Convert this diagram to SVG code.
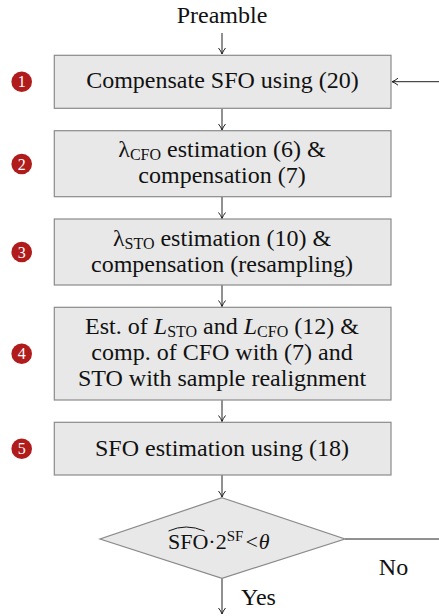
<svg xmlns="http://www.w3.org/2000/svg" width="439" height="616" viewBox="0 0 439 616">
<style>
.box{fill:#e8e8e8;stroke:#8a8a8a;stroke-width:1.2}
.t{font-family:"Liberation Serif","Times New Roman",serif;font-size:24px;fill:#111;text-anchor:middle}
.sub{font-size:16px}
.badge circle{fill:#b01c1c}
.badge text{font-family:"Liberation Serif","Times New Roman",serif;font-size:16px;fill:#fff;text-anchor:middle}
.c{stroke:#222;stroke-width:1;fill:none}
</style>
<defs>
<marker id="ah" markerWidth="10" markerHeight="10" refX="8" refY="5" orient="auto" markerUnits="userSpaceOnUse">
<path d="M2,1.5 Q5,4 8,5 Q5,6 2,8.5" fill="none" stroke="#222" stroke-width="1"/>
</marker>
</defs>
<rect width="439" height="616" fill="#fff"/>
<text class="t" x="222" y="23">Preamble</text>
<g id="connectors">
<line class="c" x1="222" y1="33" x2="222" y2="54" marker-end="url(#ah)"/>
<line class="c" x1="222" y1="108.5" x2="222" y2="130" marker-end="url(#ah)"/>
<line class="c" x1="222" y1="197" x2="222" y2="218.5" marker-end="url(#ah)"/>
<line class="c" x1="222" y1="285" x2="222" y2="306.5" marker-end="url(#ah)"/>
<line class="c" x1="222" y1="400" x2="222" y2="421.5" marker-end="url(#ah)"/>
<line class="c" x1="222" y1="475" x2="222" y2="497" marker-end="url(#ah)"/>
<line class="c" x1="222" y1="578.5" x2="222" y2="614" marker-end="url(#ah)"/>
<line class="c" x1="345" y1="539" x2="439" y2="539"/>
<line class="c" x1="439" y1="81.7" x2="392" y2="81.7" marker-end="url(#ah)"/>
<text class="t" x="393.5" y="575">No</text>
<text class="t" x="258.5" y="605">Yes</text>
</g>
<g id="n1">
<rect class="box" x="54.3" y="55.3" width="336.7" height="53"/>
<text class="t" x="222.5" y="88">Compensate SFO using (20)</text>
</g>
<g id="n2">
<rect class="box" x="54.3" y="130.7" width="336.7" height="66"/>
<text class="t" x="222" y="157">λ<tspan class="sub" dy="3">CFO</tspan><tspan dy="-3"> estimation (6) &amp;</tspan></text>
<text class="t" x="222" y="183">compensation (7)</text>
</g>
<g id="n3">
<rect class="box" x="54.3" y="219" width="336.7" height="66"/>
<text class="t" x="222" y="245.5">λ<tspan class="sub" dy="3">STO</tspan><tspan dy="-3"> estimation (10) &amp;</tspan></text>
<text class="t" x="222" y="271.5">compensation (resampling)</text>
</g>
<g id="n4">
<rect class="box" x="54.3" y="307.3" width="336.7" height="92.7"/>
<text class="t" x="222" y="333.5">Est. of <tspan font-style="italic">L</tspan><tspan class="sub" dy="3">STO</tspan><tspan dy="-3"> and </tspan><tspan font-style="italic">L</tspan><tspan class="sub" dy="3">CFO</tspan><tspan dy="-3"> (12) &amp;</tspan></text>
<text class="t" x="222" y="359.5">comp. of CFO with (7) and</text>
<text class="t" x="222" y="386">STO with sample realignment</text>
</g>
<g id="n5">
<rect class="box" x="54.3" y="422.3" width="336.7" height="52.7"/>
<text class="t" x="222" y="455.5">SFO estimation using (18)</text>
</g>
<g id="n6">
<polygon class="box" points="222,497.7 345,539 222,578.3 100,539"/>
<path d="M168.5,531 Q186,523 204.5,531" fill="none" stroke="#111" stroke-width="1"/>
<text class="t" x="168" y="548.5" style="text-anchor:start;font-size:22px">SFO·2<tspan font-size="15px" dy="-8">SF</tspan><tspan dy="8" dx="2">&lt;</tspan><tspan font-style="italic" dx="1">θ</tspan></text>
</g>
<g id="b1" class="badge"><circle cx="21.7" cy="81.7" r="10.3"/><text x="21.7" y="87">1</text></g>
<g id="b2" class="badge"><circle cx="21.7" cy="164" r="10.3"/><text x="21.7" y="169.5">2</text></g>
<g id="b3" class="badge"><circle cx="21.7" cy="252" r="10.3"/><text x="21.7" y="257.5">3</text></g>
<g id="b4" class="badge"><circle cx="21.7" cy="353.7" r="10.3"/><text x="21.7" y="359.2">4</text></g>
<g id="b5" class="badge"><circle cx="21.7" cy="448.7" r="10.3"/><text x="21.7" y="454.2">5</text></g>
</svg>
